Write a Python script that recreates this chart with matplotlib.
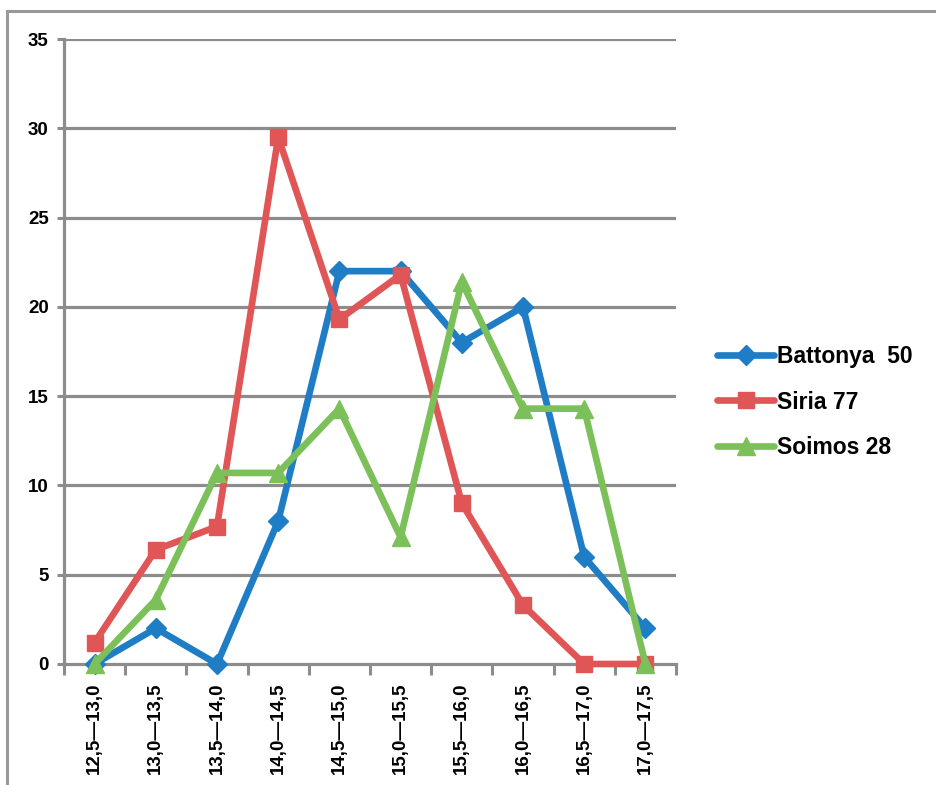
import matplotlib
matplotlib.use("Agg")
import matplotlib.pyplot as plt
from matplotlib.lines import Line2D

categories = ["12,5—13,0", "13,0—13,5", "13,5—14,0", "14,0—14,5", "14,5—15,0",
              "15,0—15,5", "15,5—16,0", "16,0—16,5", "16,5—17,0", "17,0—17,5"]
battonya = [0, 2, 0, 8, 22, 22, 18, 20, 6, 2]
siria = [1.2, 6.4, 7.7, 29.5, 19.3, 21.8, 9.0, 3.3, 0, 0]
soimos = [0, 3.6, 10.7, 10.7, 14.3, 7.1, 21.4, 14.3, 14.3, 0]
series_names = ["Battonya  50", "Siria 77", "Soimos 28"]
yticks = [0, 5, 10, 15, 20, 25, 30, 35]

plt.rcParams['font.family'] = ['Liberation Sans', 'DejaVu Sans']

W, H = 936, 785
fig = plt.figure(figsize=(W / 100, H / 100), dpi=100)
ax = fig.add_axes([64 / W, (H - 664) / H, 612 / W, 625 / H])

grid_c = "#8c8c8c"
x = [i + 0.5 for i in range(len(categories))]

styles = [
    dict(color="#1f7dc6", marker="D", markersize=10.5),
    dict(color="#e05555", marker="s", markersize=12),
    dict(color="#7cc05a", marker="^", markersize=13),
]
handles = []
for vals, name, st in zip([battonya, siria, soimos], series_names, styles):
    ln, = ax.plot(x, vals, linewidth=4.8, label=name, clip_on=False, zorder=3,
                  solid_joinstyle="round", solid_capstyle="round", **st)
    handles.append(ln)

ax.set_xlim(0, len(categories))
ax.set_ylim(0, 35)
ax.set_yticks(yticks)
ax.set_yticklabels([str(v) for v in yticks], fontsize=13.5, fontweight="bold")
ax.set_xticks(x)
ax.set_xticklabels(categories, rotation=90, fontsize=13.5, fontweight="bold")
ax.set_xticks(range(len(categories) + 1), minor=True)
ax.tick_params(axis="x", which="major", length=0, pad=13)
ax.tick_params(axis="x", which="minor", length=8, width=2.2, color=grid_c, direction="out")
ax.tick_params(axis="y", which="major", length=5, width=2.2, color=grid_c, direction="out", pad=6)

for y in yticks[1:]:
    ax.axhline(y, color=grid_c, linewidth=2.3, zorder=1)
for s in ["top", "right"]:
    ax.spines[s].set_visible(False)
for s in ["left", "bottom"]:
    ax.spines[s].set_color(grid_c)
    ax.spines[s].set_linewidth(2.3)

leg = fig.legend(handles=handles, loc="center left", bbox_to_anchor=(708 / W, 1 - 402 / H),
                 frameon=False, prop=dict(size=16.5, weight="bold"),
                 handlelength=2.5, handletextpad=0.1, labelspacing=1.0, borderaxespad=0)

# outer frame (top and left edges)
fig.add_artist(Line2D([7 / W, 1.0], [1 - 11 / H, 1 - 11 / H], color="#999999", linewidth=2.2,
                      transform=fig.transFigure))
fig.add_artist(Line2D([7 / W, 7 / W], [1 - 11 / H, 0], color="#999999", linewidth=2.2,
                      transform=fig.transFigure))

fig.savefig("out.png", dpi=100)
